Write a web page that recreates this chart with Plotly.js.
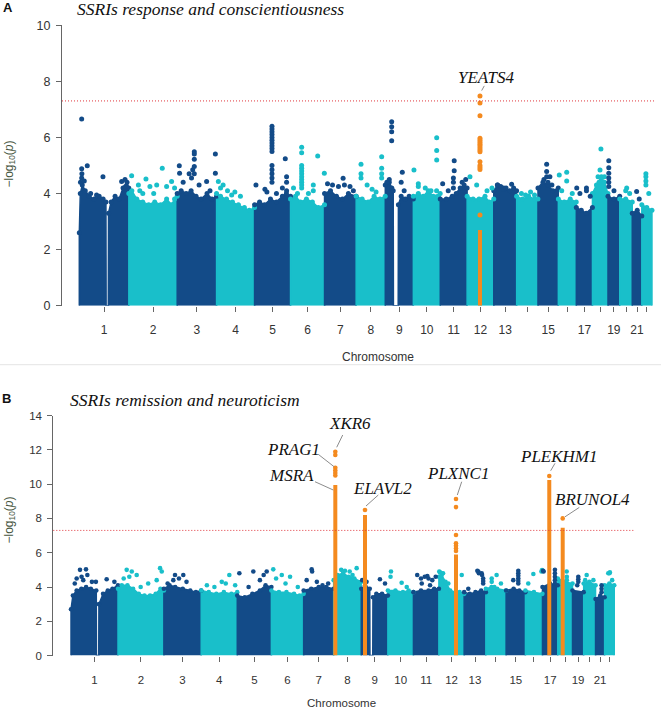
<!DOCTYPE html>
<html><head><meta charset="utf-8">
<script src="https://cdn.plot.ly/plotly-3.0.1.min.js"></script>
<style>html,body{margin:0;padding:0;background:#fff}#chart{width:661px;height:711px}</style>
</head><body><div id="chart"></div>
<script>
// ---------------- data ----------------
const chromosomes = [1,2,3,4,5,6,7,8,9,10,11,12,13,14,15,16,17,18,19,20,21,22];
const chromLength = [249.3,243.2,198.0,191.2,180.9,171.1,159.1,146.4,141.2,135.5,135.0,133.9,115.2,107.3,102.5,90.4,81.2,78.1,59.1,63.0,48.1,51.3];
const tickLabels = ['1','2','3','4','5','6','7','8','9','10','11','12','13','','15','','17','','19','','21',''];
const yTicksA = [0,2,4,6,8,10];
const yTicksB = [0,2,4,6,8,10,12,14];
const threshold = 7.3;

// Panel A: upper edge of the dense SNP cloud per chromosome (Mb, -log10 p)
const envA_pos = [
 [0,5,15,30,50,75,100,120,134,135,146,147,160,180,200,220,240,249],
 [0,15,40,70,100,130,160,190,215,230,243],
 [0,20,45,70,95,120,150,175,198],
 [0,20,50,80,110,140,165,191],
 [0,25,50,80,110,140,160,181],
 [0,25,50,80,110,140,171],
 [0,30,60,90,120,159],
 [0,30,60,90,120,146],
 [0,20,40,41,65,66,80,100,120,141],
 [0,25,50,75,100,135],
 [0,30,60,80,100,120,135],
 [0,30,60,90,110,134],
 [0,20,50,80,100,115],
 [0,30,60,90,107],
 [0,25,50,75,102],
 [0,30,60,90],
 [0,25,50,81],
 [0,20,45,60,78],
 [0,30,59],
 [0,30,63],
 [0,25,48],
 [0,25,51]
];
const envA_val = [
 [2.6,4.0,4.3,4.1,3.9,3.8,3.9,3.8,3.7,0,0,3.3,3.7,3.9,3.8,4.2,4.4,4.2],
 [4.0,4.1,3.8,3.7,3.6,3.7,3.6,3.8,3.6,3.8,3.9],
 [4.0,4.1,4.0,4.1,3.9,3.8,4.0,3.8,3.9],
 [4.0,3.9,3.8,3.7,3.6,3.5,3.4,3.5],
 [3.6,3.7,3.6,3.8,3.7,3.9,4.0,3.9],
 [3.8,3.9,3.7,3.8,3.7,3.5,3.6],
 [4.0,4.1,3.9,3.8,4.0,3.9],
 [3.9,3.8,3.7,3.9,3.8,3.9],
 [4.3,4.4,4.1,0,0,3.6,3.9,3.8,3.9,3.8],
 [3.9,4.0,3.9,4.1,3.9,4.0],
 [3.8,3.8,3.9,4.0,4.2,4.3,4.2],
 [3.9,3.8,3.8,3.9,3.7,3.8],
 [4.1,4.3,4.2,4.1,4.2,4.1],
 [3.9,3.8,3.9,3.8,3.8],
 [4.2,4.4,4.3,4.1,4.2],
 [3.8,3.7,3.8,3.7],
 [3.5,3.4,3.3,3.5],
 [4.0,4.3,4.6,4.4,4.0],
 [3.9,3.8,3.9],
 [3.8,3.8,3.7],
 [3.3,3.4,3.2],
 [3.6,3.5,3.4]
];
// Panel A: individual SNPs standing above the cloud
const hitsA_pos = [
 [12,12,13,12,40,57,87,119,213,230,233,6,25],
 [14,48,55,86,106,140,168,190,215,230,70,125],
 [10.5,12,60,72,78,86,86,86,86,86,148,165,192,192,30,110],
 [9,33,20,55,76,92,120],
 [87.6,87.6,87.6,87.6,87.6,87.6,87.6,87.6,87.6,87.6,87.6,87.6,87.6,87.6,87.6,154.5,161,161,161,7,52,62,110,140],
 [56,56,56,56,56,56,56,56,56,56,56,136.7,114.6,114.6,170,15,35,90],
 [93.4,15,40,70,128,100,145],
 [24.3,24.3,24.3,128.3,128.3,128.3,128.3,55,80,100],
 [32.2,32.2,32.2,32.2,85.6,80,95,8,20,33],
 [3,25,25,117.4,117.4,117.4,88.7,117,60],
 [70,70,66,66,66,12,128,110,40],
 [14.4,48,100,125],
 [18,35,50,62,90],
 [24,45,70,90],
 [43.7,43.7,43.7,60,30,70,50],
 [4.7,42,42,17,70],
 [2,51,51,18,70],
 [42.6,38,28,33,60],
 [4,4,4,4,4,4,30],
 [35,30,50],
 [22,35],
 [20.4,20.4,20.4,20.4,35]
];
const hitsA_val = [
 [6.66,4.88,4.7,4.55,4.99,4.0,3.95,4.6,4.43,4.5,4.25,4.4,4.45],
 [4.63,4.3,4.1,4.52,4.25,4.3,4.9,4.25,4.43,4.2,4.0,4.0],
 [4.99,4.72,4.7,4.55,4.85,5.49,5.41,5.22,4.96,4.7,4.43,4.1,5.41,4.72,4.4,4.3],
 [4.43,4.3,4.2,4.1,3.95,4.05,3.9],
 [6.4,6.3,6.2,6.1,6.0,5.9,5.8,5.7,5.6,5.5,5.0,4.85,4.7,4.55,4.4,5.24,4.6,4.4,4.1,4.3,4.15,4.05,4.0,4.2],
 [5.65,5.45,5.0,4.9,4.8,4.7,4.6,4.5,4.4,4.3,4.2,5.34,4.3,4.1,4.72,4.2,4.0,4.0],
 [4.54,4.35,4.3,4.25,4.25,4.3,4.1],
 [5.04,4.7,4.55,5.31,4.9,4.7,4.55,4.3,4.15,4.05],
 [6.56,6.38,6.2,5.88,4.76,4.4,4.1,4.4,4.5,4.2],
 [4.84,4.35,4.25,5.99,5.53,5.19,4.1,4.1,4.2],
 [5.17,4.81,4.55,4.4,4.2,4.35,4.5,4.4,4.1],
 [4.6,4.3,4.1,4.2],
 [4.3,4.25,4.15,4.2,4.33],
 [4.0,3.95,4.05,3.95],
 [5.04,4.78,4.6,4.6,4.5,4.3,4.4],
 [4.66,4.76,4.45,4.1,4.0],
 [4.2,4.2,4.1,4.0,3.9],
 [5.59,4.84,4.6,4.4,4.6],
 [5.17,4.92,4.72,4.55,4.4,4.25,4.1],
 [4.2,4.1,4.0],
 [4.07,3.8],
 [4.7,4.6,4.45,4.3,4.0]
];
// Panel A: highlighted locus (orange)
const sigA_chr = [12,12,12,12,12,12,12,12,12,12,12,12,12,12,12,12];
const sigA_pos = [64.7,64.7,64.7,64.7,64.7,64.7,64.7,64.7,64.7,64.7,64.7,64.7,64.7,64.7,64.7,64.7];
const sigA_val = [7.48,7.23,6.77,5.97,5.9,5.83,5.76,5.69,5.62,5.55,5.49,5.13,5.0,4.93,4.86,3.23];
const denseA_chr = [12];
const denseA_pos = [64.7];
const denseA_top = [2.7];
const genesA_name = ['YEATS4'];
const genesA_chr = [12];
const genesA_pos = [64.7];
const genesA_val = [7.48];

// Panel B
const envB_pos = [
 [0,10,30,55,80,105,134,135,147,148,170,195,220,249],
 [0,20,50,80,110,140,170,200,225,243],
 [0,30,60,100,140,170,198],
 [0,40,80,120,160,191],
 [0,40,80,120,150,181],
 [0,40,80,120,150,171],
 [0,40,80,120,159],
 [0,20,50,80,110,146],
 [0,20,45,46,61,62,80,110,141],
 [0,40,80,110,135],
 [0,40,80,110,135],
 [0,15,35,60,90,110,134],
 [0,30,60,90,115],
 [0,30,60,107],
 [0,40,70,102],
 [0,45,90],
 [0,40,81],
 [0,40,78],
 [0,59],
 [0,30,63],
 [0,25,48],
 [0,25,51]
];
const envB_val = [
 [2.7,3.5,3.8,3.9,4.0,3.9,3.8,0,0,3.0,3.6,3.8,3.9,4.1],
 [3.9,4.1,4.1,3.9,3.6,3.5,3.5,3.6,3.9,3.8],
 [3.9,4.1,4.0,3.9,3.8,3.7,3.8],
 [3.8,3.7,3.6,3.7,3.6,3.7],
 [3.5,3.4,3.6,3.8,4.1,4.0],
 [3.8,3.7,3.7,3.6,3.5,3.6],
 [3.8,3.9,4.0,4.0,3.9],
 [4.4,4.7,4.8,4.6,4.5,4.3],
 [3.9,4.1,3.9,0,0,3.4,3.6,3.6,3.5],
 [3.8,3.8,3.7,3.8,3.7],
 [3.7,3.8,3.8,3.9,3.9],
 [4.6,4.7,4.3,3.8,3.7,3.7,3.6],
 [3.7,3.6,3.7,3.8,3.7],
 [3.9,4.0,3.9,3.8],
 [3.8,3.9,3.8,3.7],
 [3.8,3.7,3.6],
 [4.0,4.2,4.1],
 [4.5,4.3,4.2],
 [3.8,3.7],
 [4.2,4.3,4.1],
 [3.3,3.5,3.4],
 [4.1,4.2,4.1]
];
const hitsB_pos = [
 [47.7,79.5,86.6,30,56,111,132,189,230,65,20],
 [46,73,99,223,232,160,205,30,60,120],
 [59,103,50,80,120,20],
 [149,109,30,70,180,130],
 [11,85,156,120,140,60],
 [10,55,99,140,25,75],
 [42.6,45,16,70,100,130],
 [122,40,60,85,100],
 [99,126,5,28],
 [16.5,14,73,100],
 [73.6,44,88,20,40,60,80,100,118],
 [2,6,15,22,121,50],
 [70,75,78,93,95,101,101,101,22],
 [31,31,45,57,80],
 [64.6,64.6,64.6,64.6,64.6,64.6,38],
 [42,15,88,85],
 [3,6,66,66,66,66,66],
 [47,48,48],
 [30.6,30.6,30.6,25],
 [16,51.5,8],
 [32,32,32],
 [28,25,19.5,40]
];
const hitsB_val = [
 [5.0,5.03,4.7,4.5,4.6,4.3,4.3,4.45,4.3,4.4,4.2],
 [5.0,4.9,4.7,5.1,4.9,4.2,4.4,4.5,4.6,4.0],
 [4.7,4.7,4.4,4.5,4.3,4.2],
 [4.7,4.3,4.1,4.0,4.1,4.2],
 [4.8,4.9,4.9,4.4,4.7,4.0],
 [5.03,4.7,4.6,4.0,4.5,4.2],
 [5.03,4.9,4.4,4.3,4.1,4.2],
 [5.1,5.0,4.95,4.9,4.7],
 [4.45,4.2,4.4,4.3],
 [4.9,4.6,4.25,4.0],
 [4.64,4.2,4.1,4.7,4.5,4.6,4.5,4.4,4.6],
 [4.9,4.85,4.8,4.8,4.7,4.2],
 [4.95,4.9,4.8,4.8,4.7,4.5,4.35,4.2,3.9],
 [4.5,4.3,4.0,4.7,4.2],
 [4.95,4.8,4.65,4.5,4.35,4.2,4.4],
 [4.76,4.2,4.99,4.9],
 [4.95,4.9,5.0,4.8,4.6,4.4,4.2],
 [4.9,4.6,4.4],
 [4.6,4.45,4.3,4.1],
 [4.7,4.4,4.4],
 [4.1,3.9,3.7],
 [4.85,4.8,4.8,4.4]
];
const sigB_chr = [8,8,8,8,8,8,9,12,12,12,12,12,12,12,17,18];
const sigB_pos = [8.8,8.8,8.8,8.8,8.8,8.8,19.8,90.7,90.7,90.7,90.7,90.7,90.7,90.7,36,26];
const sigB_val = [11.89,11.7,10.95,10.8,10.65,10.5,8.49,9.13,8.66,7.03,6.55,6.4,6.25,6.1,10.47,8.0];
const denseB_chr = [8,9,12,17,18];
const denseB_pos = [8.8,19.8,90.7,36,26];
const denseB_top = [9.95,8.2,5.9,10.24,7.46];
const genesB_name = ['XKR6','PRAG1','MSRA','ELAVL2','PLXNC1','PLEKHM1','BRUNOL4'];
const genesB_chr = [8,8,8,9,12,17,18];
const genesB_pos = [8.8,8.8,8.8,19.8,90.7,36,26];
const genesB_val = [11.89,11.0,9.66,8.49,9.13,10.47,8.0];

// ---------------- styling / layout ----------------
const NAVY = '#134b88', CYAN = '#19bfca', ORANGE = '#f48a1f';
const W = 661, H = 711;
const cumStart = [];
chromLength.reduce((acc, l, i) => { cumStart[i] = acc; return acc + l; }, 0);
const tickVals = chromLength.map((l, i) => cumStart[i] + l / 2);
const colorOf = c => (c % 2 === 1 ? NAVY : CYAN);
const px = v => v / W, py = v => 1 - v / H;

const traces = [];
function panel(xa, ya, envPos, envVal, hitPos, hitVal, sChr, sPos, sVal, dChr, dPos, dTop, msize) {
  const vx = [], vy = [], vc = [];
  chromosomes.forEach((c, i) => {
    const xs = envPos[i].map(p => cumStart[i] + p);
    const x = [xs[0]].concat(xs, [xs[xs.length - 1]]);
    const y = [0].concat(envVal[i], [0]);
    traces.push({type: 'scatter', mode: 'lines', x: x, y: y, xaxis: xa, yaxis: ya,
      fill: 'toself', fillcolor: colorOf(c), line: {color: colorOf(c), width: 1.5},
      hoverinfo: 'skip', showlegend: false});
    xs.forEach((xx, j) => { if (envVal[i][j] > 0) { vx.push(xx); vy.push(envVal[i][j]); vc.push(colorOf(c)); } });
  });
  chromosomes.forEach((c, i) => {
    hitPos[i].forEach((p, j) => { vx.push(cumStart[i] + p); vy.push(hitVal[i][j]); vc.push(colorOf(c)); });
  });
  traces.push({type: 'scatter', mode: 'markers', x: vx, y: vy, xaxis: xa, yaxis: ya,
    marker: {color: vc, size: msize, line: {width: 0}}, hoverinfo: 'skip', showlegend: false});
  dChr.forEach((c, k) => {
    const xx = cumStart[c - 1] + dPos[k];
    traces.push({type: 'scatter', mode: 'lines', x: [xx, xx], y: [0, dTop[k]], xaxis: xa, yaxis: ya,
      line: {color: ORANGE, width: 4}, hoverinfo: 'skip', showlegend: false});
  });
  traces.push({type: 'scatter', mode: 'markers', xaxis: xa, yaxis: ya,
    x: sChr.map((c, k) => cumStart[c - 1] + sPos[k]), y: sVal,
    marker: {color: ORANGE, size: msize, line: {width: 0}}, hoverinfo: 'skip', showlegend: false});
}
panel('x', 'y', envA_pos, envA_val, hitsA_pos, hitsA_val, sigA_chr, sigA_pos, sigA_val, denseA_chr, denseA_pos, denseA_top, 5);
panel('x2', 'y2', envB_pos, envB_val, hitsB_pos, hitsB_val, sigB_chr, sigB_pos, sigB_val, denseB_chr, denseB_pos, denseB_top, 4.6);

const SANS = 'Liberation Sans, Arial, sans-serif';
const SERIF = 'Liberation Serif, Times New Roman, serif';
const axisX = (domain, range, anchor, fs, standoff) => ({
  domain: domain, range: range, anchor: anchor, tickmode: 'array', tickvals: tickVals, ticktext: tickLabels,
  ticks: 'outside', ticklen: 5, tickwidth: 1, tickcolor: '#666', showline: false, showgrid: false, zeroline: false,
  tickfont: {family: SANS, size: fs, color: '#333'}, ticklabelstandoff: standoff, fixedrange: true
});
const axisY = (domain, range, anchor, ticks, fs) => ({
  domain: domain, range: range, anchor: anchor, tickmode: 'array', tickvals: ticks,
  ticks: 'outside', ticklen: 5, tickwidth: 1, tickcolor: '#666', showline: true, linecolor: '#666', linewidth: 1,
  showgrid: false, zeroline: false, tickfont: {family: SANS, size: fs, color: '#333'}, ticklabelstandoff: 3, fixedrange: true
});

const ann = [
  {text: '<b>A</b>', x: px(7.5), y: py(7.5), font: {family: SANS, size: 13, color: '#111'}},
  {text: '<b>B</b>', x: px(6.7), y: py(398), font: {family: SANS, size: 13, color: '#111'}},
  {text: '<i>SSRIs response and conscientiousness</i>', x: px(75), y: py(8.5), xanchor: 'left', font: {family: SERIF, size: 17.5, color: '#111'}},
  {text: '<i>SSRIs remission and neuroticism</i>', x: px(68.3), y: py(400), xanchor: 'left', font: {family: SERIF, size: 17.5, color: '#111'}},
  {text: 'Chromosome', x: px(377.5), y: py(357), font: {family: SANS, size: 12, color: '#333'}},
  {text: 'Chromosome', x: px(341.7), y: py(703), font: {family: SANS, size: 11.5, color: '#333'}},
  {text: '\u2212log<sub>10</sub>(<i>p</i>)', x: px(9.5), y: py(164), textangle: -90, font: {family: SANS, size: 12, color: '#465540'}},
  {text: '\u2212log<sub>10</sub>(<i>p</i>)', x: px(9.5), y: py(520), textangle: -90, font: {family: SANS, size: 12, color: '#465540'}}
].map(a => Object.assign({xref: 'paper', yref: 'paper', showarrow: false, xanchor: 'center', yanchor: 'middle'}, a));

const shapes = [
  {type: 'line', xref: 'x domain', yref: 'y', x0: 0, x1: 1, y0: threshold, y1: threshold, line: {color: '#e0363c', width: 1, dash: '1px,2px'}},
  {type: 'line', xref: 'x2 domain', yref: 'y2', x0: 0, x1: 1, y0: threshold, y1: threshold, line: {color: '#e0363c', width: 1, dash: '1px,2px'}},
  {type: 'line', xref: 'paper', yref: 'paper', x0: 0, x1: 1, y0: py(364.7), y1: py(364.7), line: {color: '#e4e4e4', width: 1}}
];

// label offsets (pixels, up positive) and leader lines, per gene
const labelA = [{dx: 6.7, dy: 18.7, l: [4.3, 10, 1.7, 5.3]}];
const labelB = [
  {dx: 14.7, dy: 27.7, l: [7.4, 16.7, 1.4, 4.4]},
  {dx: -41.5, dy: 17, l: [-17, 12.6, -1.3, 0.3]},
  {dx: -44, dy: 14.9, l: [-20.3, 8.2, -2, -0.1]},
  {dx: 17.5, dy: 21.7, l: [13.3, 15, 1, 4]},
  {dx: 2.3, dy: 25.7, l: [5.7, 17.3, 1.3, 4]},
  {dx: 9.5, dy: 19.3, l: [5.7, 12.7, 1.4, 5.3]},
  {dx: 30.3, dy: 19, l: [16.6, 11, 2.3, 1.6]}
];
function genes(xr, yr, names, chr, pos, val, lab) {
  names.forEach((n, k) => {
    const gx = cumStart[chr[k] - 1] + pos[k], gy = val[k], o = lab[k];
    ann.push({xref: xr, yref: yr, x: gx, y: gy, xshift: o.dx, yshift: o.dy, showarrow: false,
      xanchor: 'center', yanchor: 'middle', text: '<i>' + n + '</i>', font: {family: SERIF, size: 17, color: '#111'}});
    shapes.push({type: 'line', xref: xr, yref: yr, xsizemode: 'pixel', ysizemode: 'pixel', xanchor: gx, yanchor: gy,
      x0: o.l[0], y0: o.l[1], x1: o.l[2], y1: o.l[3], line: {color: '#8c8c8c', width: 1}});
  });
}
genes('x', 'y', genesA_name, genesA_chr, genesA_pos, genesA_val, labelA);
genes('x2', 'y2', genesB_name, genesB_chr, genesB_pos, genesB_val, labelB);

const layout = {
  width: W, height: H, margin: {l: 0, r: 0, t: 0, b: 0}, paper_bgcolor: '#fff', plot_bgcolor: 'rgba(0,0,0,0)',
  showlegend: false,
  xaxis: axisX([px(62), px(655)], [-87, 2896], 'y', 12, 8),
  yaxis: axisY([py(305.7), py(25.2)], [0, 10], 'x', yTicksA, 12.5),
  xaxis2: axisX([px(53.3), px(633.3)], [-93.9, 2981.8], 'y2', 11.5, 9),
  yaxis2: axisY([py(655.6), py(415.5)], [0, 14], 'x2', yTicksB, 11.5),
  annotations: ann, shapes: shapes
};
Plotly.newPlot('chart', traces, layout, {staticPlot: true, displayModeBar: false});
</script>
</body></html>
